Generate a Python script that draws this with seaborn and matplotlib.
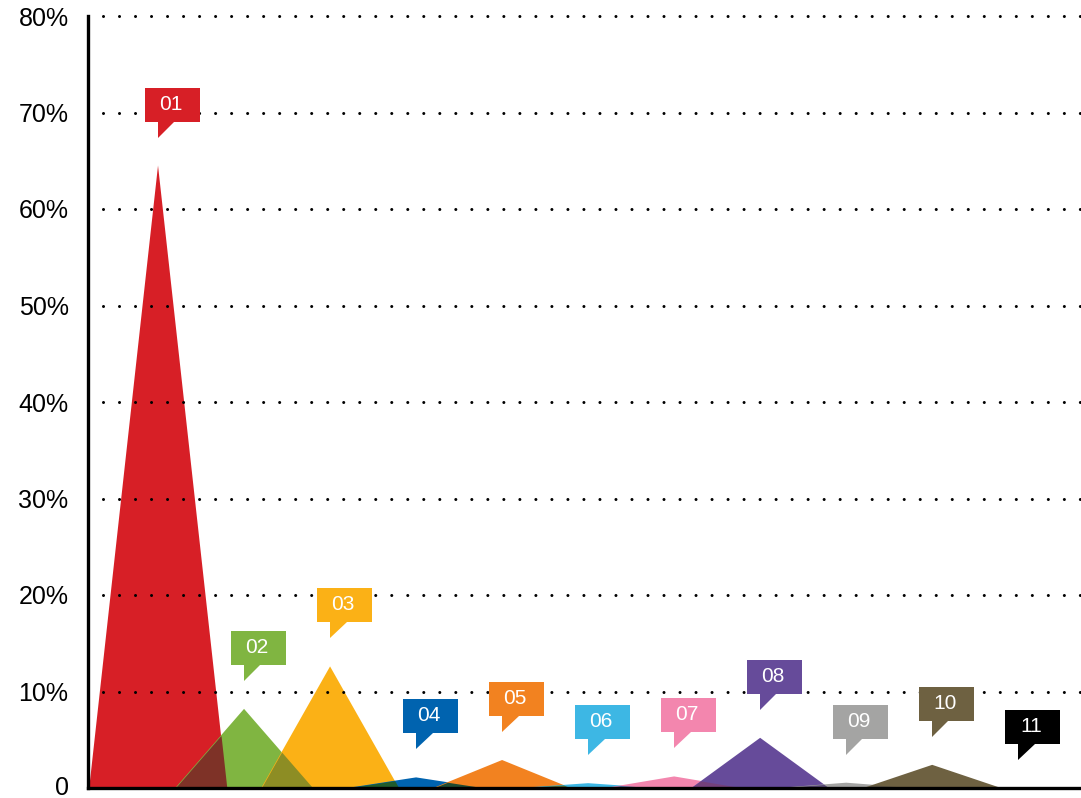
import matplotlib
matplotlib.use("Agg")
import matplotlib.pyplot as plt
import numpy as np
import seaborn as sns
from matplotlib.patches import Polygon, Rectangle
from matplotlib.transforms import IdentityTransform, ScaledTranslation

# data
labels = ["01", "02", "03", "04", "05", "06", "07", "08", "09", "10", "11"]
values = [64.5, 8.2, 12.6, 1.1, 2.9, 0.5, 1.2, 5.2, 0.55, 2.4, 0.0]
colors = ["#D71F26", "#80B541", "#FBB116", "#0063AF", "#F28220", "#3DB7E4",
          "#F386AE", "#664B9A", "#A4A4A3", "#6E6141", "#000000"]
y_ticks = [0, 10, 20, 30, 40, 50, 60, 70, 80]
y_tick_labels = ["0", "10%", "20%", "30%", "40%", "50%", "60%", "70%", "80%"]

sns.set_style("white")
plt.rcParams["font.family"] = ["Liberation Sans", "DejaVu Sans"]

HALF = 0.8  # half width of each peak, in category units


def tri(xs, i, v):
    return np.clip(v * (1 - np.abs(xs - i) / HALF), 0, None)


def overlap_colour(c1, c2):
    a = np.array(matplotlib.colors.to_rgb(c1))
    b = np.array(matplotlib.colors.to_rgb(c2))
    return tuple(np.clip(a * b * 0.88 + 0.12, 0, 1))


fig = plt.figure(figsize=(10.81, 7.98), dpi=100)
ax = fig.add_axes([88 / 1081, 10 / 798, 1 - 88 / 1081, 772 / 798])
ax.set_xlim(-0.814, 10.73)
ax.set_ylim(0, 80)

# peaks
for i, (v, c) in enumerate(zip(values, colors)):
    if v <= 0:
        continue
    ax.fill([i - HALF, i, i + HALF], [0, v, 0], color=c, lw=0, zorder=1)

# darker areas where neighbouring peaks cross
for i in range(len(values) - 1):
    if values[i] <= 0 or values[i + 1] <= 0:
        continue
    xs = np.linspace(i + 1 - HALF, i + HALF, 200)
    ys = np.minimum(tri(xs, i, values[i]), tri(xs, i + 1, values[i + 1]))
    ax.fill_between(xs, 0, ys, color=overlap_colour(colors[i], colors[i + 1]),
                    lw=0, zorder=2)

# dotted grid
for y in y_ticks[1:]:
    ln = ax.axhline(y, color="black", lw=2.2, linestyle=(0.33, (0.001, 5.24)),
                    zorder=3, clip_on=False)
    ln.set_dash_capstyle("round")

ax.set_xticks([])
ax.set_yticks(y_ticks)
ax.set_yticklabels(y_tick_labels, fontsize=18, color="black")
ax.tick_params(axis="y", length=0, pad=14)
# nudge the bottom "0" up a little so it stays inside the figure
zero = ax.get_yticklabels()[0]
zero.set_transform(zero.get_transform() + ScaledTranslation(0, 2 / 72, fig.dpi_scale_trans))
sns.despine(ax=ax, top=True, right=True)
for s in ["left", "bottom"]:
    ax.spines[s].set_linewidth(2.4)
    ax.spines[s].set_color("black")
    ax.spines[s].set_zorder(6)

# speech bubbles, sized in pixels
fig.canvas.draw()
for i, (lab, v, c) in enumerate(zip(labels, values, colors)):
    px, py = ax.transData.transform((i, v))
    tail = Polygon([(px, py + 28), (px, py + 44.5), (px + 17, py + 44.5)],
                   closed=True, facecolor=c, edgecolor="none",
                   transform=IdentityTransform(), zorder=5)
    box = Rectangle((px - 13, py + 44), 55, 34, facecolor=c, edgecolor="none",
                    transform=IdentityTransform(), zorder=5)
    fig.patches.extend([tail, box])
    fig.text((px + 13) / fig.bbox.width, (py + 61.5) / fig.bbox.height, lab,
             color="white", fontsize=15, ha="center", va="center", zorder=7)

fig.savefig("out.png", dpi=100)
